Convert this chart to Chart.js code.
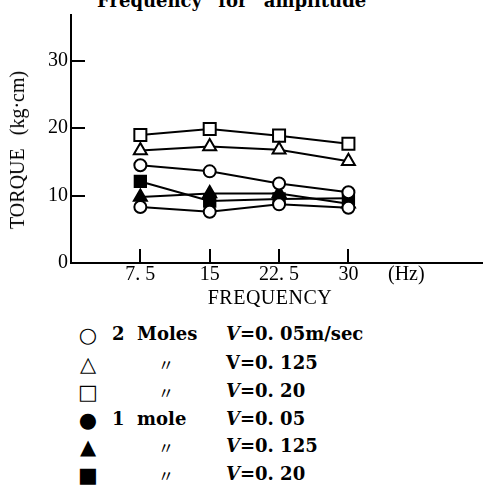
<!DOCTYPE html>
<html>
<head>
<meta charset="utf-8">
<script src="https://cdn.jsdelivr.net/npm/chart.js@4"></script>
<style>
  body { margin:0; background:#fff; width:493px; height:488px; position:relative; overflow:hidden; color:#000; font-family:"Liberation Serif", serif; }
  #wrap { position:absolute; left:0; top:0; width:493px; height:312px; }
  .t { position:absolute; white-space:pre; line-height:1; }
  .title { left:97px; top:-10px; font:bold 18px "DejaVu Serif", serif; word-spacing:10px; }
  .ytitle { left:17px; top:150px; font-size:20px; transform:translate(-50%,-50%) rotate(-90deg); word-spacing:8px; }
  .xtitle { left:270px; top:297px; font-size:20px; letter-spacing:0.5px; transform:translate(-50%,-50%); }
  .hz { left:388px; top:263px; font-size:20px; }
  .row { position:absolute; left:0; height:24px; line-height:24px; width:493px; font:bold 18px "DejaVu Serif", serif; }
  .row span { position:absolute; top:0; white-space:pre; }
  .sym { left:76px; width:24px; text-align:center; font:21px "DejaVu Sans", sans-serif; }
  .who { left:112px; }
  .ditto { left:158px; font:16px "Noto Sans CJK JP", sans-serif; }
  .vel { left:226px; }
</style>
</head>
<body>
<div class="t title">Frequency for amplitude</div>
<div id="wrap"><canvas id="chart" width="493" height="312"></canvas></div>
<div class="t ytitle">TORQUE (kg·cm)</div>
<div class="t xtitle">FREQUENCY</div>
<div class="t hz">(Hz)</div>
<div id="legend"></div>
<script>
// x axis: vibration frequency (Hz)
const freqs = [7.5, 15, 22.5, 30];
const freqLabels = ["7. 5", "15", "22. 5", "30"];
const torqueTicks = [0, 10, 20, 30];

// torque (kg·cm)
const moles2V005  = [14.5, 13.6, 11.8, 10.5];
const moles2V0125 = [16.7, 17.3, 16.8, 15.1];
const moles2V020  = [19.0, 19.9, 18.9, 17.7];
const mole1V005   = [8.3, 7.6, 8.7, 8.2];
const mole1V0125  = [9.8, 10.3, 10.3, 8.8];
const mole1V020   = [12.1, 9.2, 9.5, 9.6];

const legendRows = [
  { sym: "○", who: "2  Moles", ditto: false, v: "=0. 05m/sec", italic: true },
  { sym: "△", who: "", ditto: true, v: "=0. 125", italic: false },
  { sym: "□", who: "", ditto: true, v: "=0. 20", italic: true },
  { sym: "●", who: "1  mole", ditto: false, v: "=0. 05", italic: true },
  { sym: "▲", who: "", ditto: true, v: "=0. 125", italic: true },
  { sym: "■", who: "", ditto: true, v: "=0. 20", italic: true }
];
const legendY = [335, 364, 392, 420, 447, 475];

function pts(vals){ return vals.map((y, i) => ({ x: freqs[i], y })); }

function series(label, vals, style, filled, radius){
  return {
    label,
    data: pts(vals),
    borderColor: "#000",
    borderWidth: 2,
    pointStyle: style,
    pointRadius: radius,
    pointBorderWidth: 2,
    pointBorderColor: "#000",
    pointBackgroundColor: filled ? "#000" : "#fff",
    tension: 0,
    fill: false
  };
}

// short tick marks drawn inside the plot, like the original
const innerTicks = {
  id: "innerTicks",
  afterDraw(chart){
    const { ctx, scales: { x, y } } = chart;
    ctx.save();
    ctx.strokeStyle = "#000";
    ctx.lineWidth = 2;
    torqueTicks.filter(v => v > 0).forEach(v => {
      const py = Math.round(y.getPixelForValue(v));
      ctx.beginPath(); ctx.moveTo(x.left, py); ctx.lineTo(x.left + 14, py); ctx.stroke();
    });
    freqs.forEach(v => {
      const px = Math.round(x.getPixelForValue(v));
      ctx.beginPath(); ctx.moveTo(px, y.bottom); ctx.lineTo(px, y.bottom - 14); ctx.stroke();
    });
    ctx.restore();
  }
};

const tickFont = { family: "Liberation Serif", size: 20 };

new Chart(document.getElementById("chart"), {
  type: "line",
  data: {
    datasets: [
      series("2 Moles V=0.05m/sec", moles2V005, "circle", false, 6),
      series("2 Moles V=0.125", moles2V0125, "triangle", false, 7.5),
      series("2 Moles V=0.20", moles2V020, "rect", false, 8.5),
      series("1 mole V=0.05", mole1V005, "circle", false, 6),
      series("1 mole V=0.125", mole1V0125, "triangle", true, 7.5),
      series("1 mole V=0.20", mole1V020, "rect", true, 8)
    ]
  },
  options: {
    responsive: false,
    animation: false,
    devicePixelRatio: 1,
    layout: { padding: { top: 10, left: 0, right: 0, bottom: 0 } },
    plugins: { legend: { display: false }, tooltip: { enabled: false } },
    scales: {
      x: {
        type: "linear", min: 0, max: 44.5,
        grid: { display: false, drawTicks: false },
        border: { color: "#000", width: 2 },
        ticks: { color: "#000", font: tickFont, padding: 0, maxRotation: 0,
                 callback: v => { const i = freqs.indexOf(v); return i >= 0 ? freqLabels[i] : ""; } },
        afterBuildTicks: s => { s.ticks = freqs.map(v => ({ value: v })); },
        afterFit: s => { s.height = 49; }
      },
      y: {
        type: "linear", min: 0, max: 36.8,
        grid: { display: false, drawTicks: false },
        border: { color: "#000", width: 2 },
        ticks: { color: "#000", font: tickFont, padding: 3 },
        afterBuildTicks: s => { s.ticks = torqueTicks.map(v => ({ value: v })); },
        afterFit: s => { s.width = 71; }
      }
    }
  },
  plugins: [innerTicks]
});

// legend table below the chart
const lg = document.getElementById("legend");
legendRows.forEach((r, i) => {
  const row = document.createElement("div");
  row.className = "row";
  row.style.top = (legendY[i] - 12) + "px";
  const V = r.italic ? "<i>V</i>" : "V";
  row.innerHTML =
    `<span class="sym">${r.sym}</span>` +
    (r.who ? `<span class="who">${r.who}</span>` : "") +
    (r.ditto ? `<span class="ditto">〃</span>` : "") +
    `<span class="vel">${V}${r.v}</span>`;
  lg.appendChild(row);
});
</script>
</body>
</html>
